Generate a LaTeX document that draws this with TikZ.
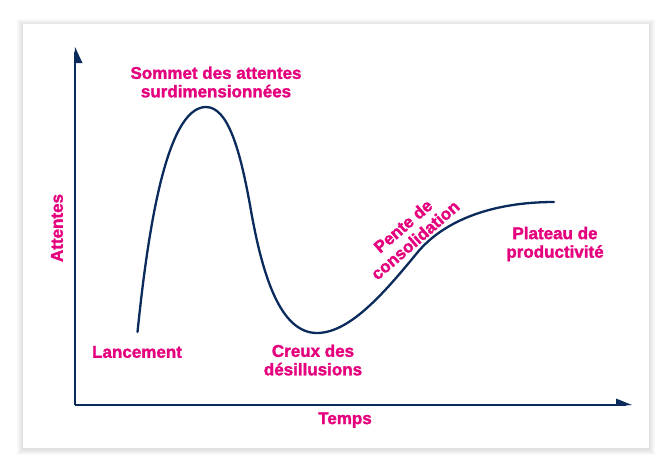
\documentclass[tikz,border=0pt]{standalone}
\usepackage{fontspec}
\setmainfont{Liberation Sans}[BoldFeatures={FakeBold=1.6}]
\definecolor{mag}{HTML}{E5007D}
\definecolor{navy}{HTML}{0A2B5C}
\begin{document}
\begin{tikzpicture}[x=1pt,y=-1pt,
  lab/.style={text=mag, font=\bfseries\fontsize{17}{18.5}\selectfont, align=center, inner sep=0pt},
  axis/.style={draw=navy, line width=2pt},
  head/.style={fill=navy},
  curve/.style={draw=navy, line width=2.3pt, line cap=round}]
\useasboundingbox (0,0) rectangle (672,474);
% card with soft shadow
\foreach \i in {1,...,6}{
  \fill[black, opacity=0.018] (23-\i,24-\i+1) rectangle (649+\i,448+\i+1);
}
\fill[white] (23,24) rectangle (649,448);
% axes
\coordinate (O) at (75,405);
\coordinate (Ytip) at (75,47);
\coordinate (Xtip) at (632,405);
\draw[axis] (O) -- (75,52);
\draw[axis] (O) -- (626,405);
\fill[head] (Ytip) -- (82.5,63) -- (74,63) -- cycle;
\fill[head] (Xtip) -- (616,398.5) -- (616,406) -- cycle;
% hype curve
\coordinate (start) at (137.5,332);
\coordinate (peak) at (206,107);
\coordinate (drop) at (250,205);
\coordinate (trough) at (317,333);
\coordinate (slope) at (417,253);
\coordinate (end) at (554,202);
\draw[curve] (start) .. controls (147,240) and (165,107) .. (peak)
  .. controls (228,107) and (240,150) .. (drop)
  .. controls (262,275) and (280,333) .. (trough)
  .. controls (350,333) and (385,292) .. (slope)
  .. controls (445,219) and (495,202) .. (end);
% labels
\node[lab] (sommet) at (216,82) {Sommet des attentes\\surdimensionnées};
\node[lab, rotate=90] (attentes) at (57,228) {Attentes};
\node[lab] (lancement) at (137,352) {Lancement};
\node[lab] (creux) at (313,360) {Creux des\\désillusions};
\node[lab, rotate=41] (pente) at (409,233) {Pente de\\consolidation};
\node[lab] (plateau) at (555,244) {Plateau de\\productivité};
\node[lab] (temps) at (345,420) {Temps};
\end{tikzpicture}
\end{document}
